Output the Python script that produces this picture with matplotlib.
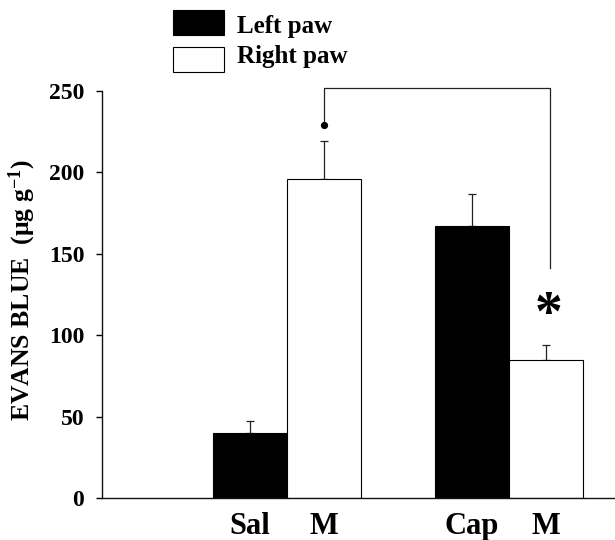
import matplotlib
matplotlib.use("Agg")
import matplotlib.pyplot as plt
from matplotlib.patches import Rectangle

# ---- data ----
series_names = ["Left paw", "Right paw"]
group_labels = ["Sal", "M", "Cap", "M"]
left_paw = [40, 167]          # Sal, Cap
left_err = [7.5, 20]
right_paw = [196, 85]         # M, M
right_err = [23, 9]
y_ticks = [0, 50, 100, 150, 200, 250]
bracket_low_left = 229        # dot level above first M bar
bracket_top = 251.7
bracket_low_right = 141.3
star_y = 112

plt.rcParams['font.family'] = ['Liberation Serif', 'DejaVu Serif']
plt.rcParams['font.weight'] = 'bold'
plt.rcParams['mathtext.fontset'] = 'custom'
plt.rcParams['mathtext.default'] = 'regular'

fig = plt.figure(figsize=(6.15, 5.4), dpi=100)
ax = fig.add_axes([102/615, 42/540, 1 - 102/615, 407/540])

left_pos = [2, 5]
right_pos = [3, 6]

ax.errorbar(left_pos, left_paw, yerr=[[0, 0], left_err], fmt='none',
            ecolor='#222222', elinewidth=0.9, capsize=2.6, capthick=0.9, zorder=1)
ax.errorbar(right_pos, right_paw, yerr=[[0, 0], right_err], fmt='none',
            ecolor='#222222', elinewidth=0.9, capsize=2.6, capthick=0.9, zorder=1)
ax.bar(left_pos, left_paw, width=1.0, color='black', edgecolor='black',
       linewidth=0.8, zorder=2)
ax.bar(right_pos, right_paw, width=1.0, color='white', edgecolor='black',
       linewidth=0.8, zorder=2)

# significance bracket
bx_l, bx_r = right_pos[0], right_pos[1] + 0.06
ax.plot([bx_l, bx_l, bx_r, bx_r],
        [bracket_low_left, bracket_top, bracket_top, bracket_low_right],
        color='#222222', lw=0.9, clip_on=False, zorder=3)
ax.plot([bx_l], [bracket_low_left], marker='o', ms=4.2, color='black',
        clip_on=False, zorder=3)
ax.text(right_pos[1] + 0.04, star_y, '*', fontsize=40, fontweight='bold',
        ha='center', va='center', color='black')

ax.set_xlim(0, 513/74)
ax.set_ylim(0, 250)
ax.set_yticks(y_ticks)
ax.set_yticklabels([str(t) for t in y_ticks])
ax.set_xticks([left_pos[0], right_pos[0], left_pos[1], right_pos[1]])
ax.set_xticklabels(group_labels)

for s in ['top', 'right']:
    ax.spines[s].set_visible(False)
for s in ['left', 'bottom']:
    ax.spines[s].set_linewidth(1.0)
    ax.spines[s].set_color('#111111')

ax.tick_params(axis='y', direction='out', length=4.3, width=1.0,
               pad=8.5, labelsize=17)
ax.tick_params(axis='x', length=0, pad=10, labelsize=22)
for lab in ax.get_xticklabels() + ax.get_yticklabels():
    lab.set_fontweight('bold')

ax.set_ylabel(r'EVANS BLUE  (μg g$^{-1}$)', fontsize=18.5, fontweight='bold')
ax.yaxis.set_label_coords(-0.125, 0.51)

# legend (manual)
fig.add_artist(Rectangle((172.7/615, 1 - 35/540), 51.3/615, 25/540,
                         transform=fig.transFigure, facecolor='black',
                         edgecolor='black', lw=0.8))
fig.add_artist(Rectangle((172.7/615, 1 - 71.7/540), 51.3/615, 25/540,
                         transform=fig.transFigure, facecolor='white',
                         edgecolor='black', lw=0.8))
fig.text(237/615, 1 - 33/540, series_names[0], fontsize=18, fontweight='bold',
         ha='left', va='baseline')
fig.text(237/615, 1 - 63/540, series_names[1], fontsize=18, fontweight='bold',
         ha='left', va='baseline')

fig.savefig('out.png', dpi=100)
